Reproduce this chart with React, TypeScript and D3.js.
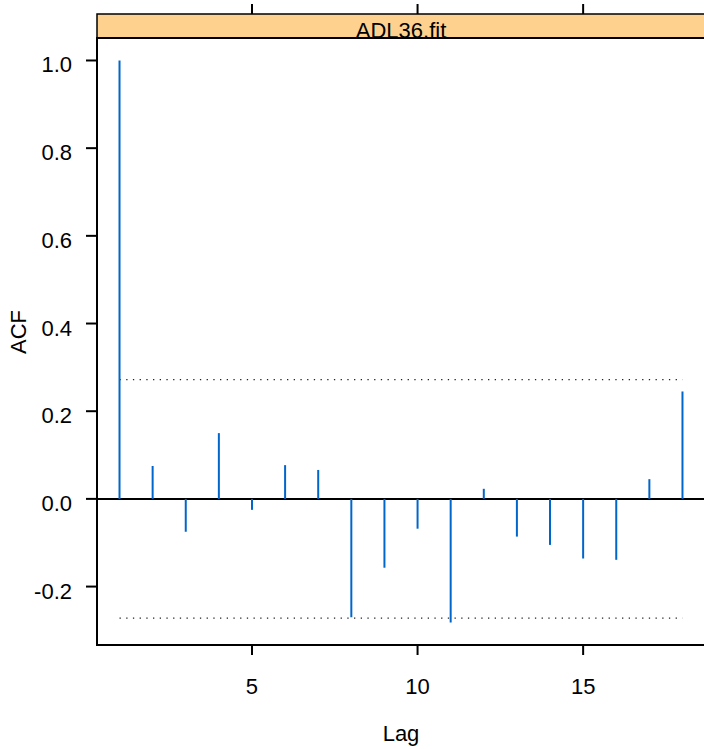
import React from 'react';
import * as d3 from 'd3';

// ACF values for lags 1..18
const lags = [1, 2, 3, 4, 5, 6, 7, 8, 9, 10, 11, 12, 13, 14, 15, 16, 17, 18];
const acf = [1.0, 0.075, -0.075, 0.15, -0.025, 0.077, 0.066, -0.27, -0.157, -0.068, -0.282, 0.023, -0.086, -0.105, -0.136, -0.139, 0.045, 0.245];
const band = [-0.272, 0.272];
const xTicks = [5, 10, 15];
const yTicks = [-0.2, 0, 0.2, 0.4, 0.6, 0.8, 1.0];
const panelTitle = 'ADL36.fit';

const W = 704;
const H = 749;
const left = 97;
const right = 705;
const top = 38;
const bottom = 645;
const stripTop = 14;

function App() {
  const xExt = d3.extent(lags) as [number, number];
  const xPad = (xExt[1] - xExt[0]) * 0.04;
  const x = d3.scaleLinear().domain([xExt[0] - xPad, xExt[1] + xPad]).range([left, right]);

  const yMin = Math.min(d3.min(acf)!, band[0]);
  const yMax = Math.max(d3.max(acf)!, band[1]);
  const yPad = (yMax - yMin) * 0.04;
  const y = d3.scaleLinear().domain([yMin - yPad, yMax + yPad]).range([bottom, top]);

  const font = 'Liberation Sans, Arial, Helvetica, sans-serif';
  const fs = 22;

  return (
    <svg width={W} height={H} style={{ position: 'absolute', left: 0, top: 0 }} fontFamily={font}>
      <defs>
        <clipPath id="panel">
          <rect x={left} y={top} width={right - left} height={bottom - top} />
        </clipPath>
      </defs>

      {/* strip */}
      <rect x={left} y={stripTop} width={right - left} height={top - stripTop} fill="#fed18f" stroke="black" strokeWidth={1.5} />
      <text x={(left + right) / 2} y={top} textAnchor="middle" fontSize={22}>{panelTitle}</text>

      {/* panel contents */}
      <g clipPath="url(#panel)">
        {band.map((b, i) => (
          <line key={i} x1={x(lags[0])} x2={x(lags[lags.length - 1])} y1={y(b)} y2={y(b)}
            stroke="#222" strokeWidth={1.3} strokeDasharray="1.3,5.4" />
        ))}
        <line x1={left} x2={right} y1={y(0)} y2={y(0)} stroke="black" strokeWidth={2} />
        {lags.map((l, i) => (
          <line key={l} x1={x(l)} x2={x(l)} y1={y(0)} y2={y(acf[i])} stroke="#0066cc" strokeWidth={2} />
        ))}
      </g>

      <rect x={left} y={top} width={right - left} height={bottom - top} fill="none" stroke="black" strokeWidth={2} />

      {/* x ticks bottom and top */}
      {xTicks.map((t) => (
        <g key={t}>
          <line x1={x(t)} x2={x(t)} y1={bottom} y2={bottom + 10} stroke="black" strokeWidth={2} />
          <line x1={x(t)} x2={x(t)} y1={stripTop} y2={stripTop - 10} stroke="black" strokeWidth={2} />
          <text x={x(t)} y={694} textAnchor="middle" fontSize={fs}>{t}</text>
        </g>
      ))}

      {/* y ticks */}
      {yTicks.map((t) => (
        <g key={t}>
          <line x1={left} x2={left - 11} y1={y(t)} y2={y(t)} stroke="black" strokeWidth={2} />
          <text x={72} y={y(t) + 12} textAnchor="end" fontSize={fs}>{t.toFixed(1)}</text>
        </g>
      ))}

      <text x={(left + right) / 2} y={741} textAnchor="middle" fontSize={fs}>Lag</text>
      <text transform={`translate(26,332) rotate(-90)`} textAnchor="middle" fontSize={fs}>ACF</text>
    </svg>
  );
}

export default App;
